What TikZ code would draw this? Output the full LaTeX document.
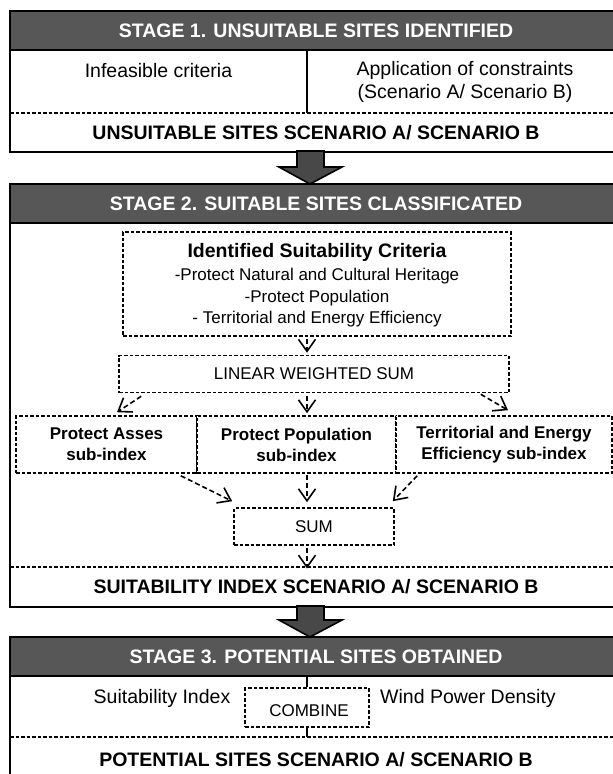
\documentclass[tikz,border=0pt]{standalone}
\usepackage{fontspec}
\setmainfont{Liberation Sans}
\usetikzlibrary{arrows.meta,calc}
\definecolor{hdrgray}{HTML}{575757}
\definecolor{arrgray}{HTML}{484848}
\begin{document}
\begin{tikzpicture}[x=1pt,y=-1pt,
  txt/.style={inner sep=0pt, align=center, font=\fontsize{19.5}{23}\selectfont},
  btxt/.style={txt, font=\fontsize{19.5}{23}\selectfont\bfseries},
  htxt/.style={btxt, text=white},
  stxt/.style={txt, font=\fontsize{17}{21}\selectfont},
  sbtxt/.style={txt, font=\fontsize{17}{21}\selectfont\bfseries},
  dashline/.style={line width=1.6pt, dash pattern=on 3.5pt off 2pt},
  dbox/.style={draw, dashline, inner sep=0pt, fill=white},
  frame/.style={draw=black, line width=1.7pt, fill=white, inner sep=0pt},
  band/.style={draw=black, line width=2pt, fill=hdrgray, inner sep=0pt},
  link/.style={line width=1.6pt, dash pattern=on 5pt off 3pt, -{Straight Barb[length=12pt,width=17pt,line width=1.6pt]}},
  bigarrow/.style={draw=black, line width=1.6pt, fill=arrgray, line join=miter},
]
\useasboundingbox (0,0) rectangle (613,774);
\clip (0,0) rectangle (613,774);
\fill[white] (0,0) rectangle (613,774);

% ---------------- STAGE 1 ----------------
\node[frame, minimum width=612, minimum height=141] (st1) at (316,81.5) {};
\node[band, minimum width=612, minimum height=39] (b1) at (316,30.5) {};
\node[htxt] (h1) at (316,31) {STAGE 1. UNSUITABLE SITES IDENTIFIED};
\coordinate (d1t) at (307,50);
\coordinate (d1b) at (307,113);
\draw[line width=1.6pt] (d1t) -- (d1b);
\coordinate (l1a) at (10,113);
\coordinate (l1b) at (622,113);
\draw[dashline] (l1a) -- (l1b);
\node[txt] (inf) at (158.5,71) {Infeasible criteria};
\node[txt] (app) at (465,81.5) {Application of constraints\\(Scenario A/ Scenario B)};
\node[btxt] (uns) at (316,133) {UNSUITABLE SITES SCENARIO A/ SCENARIO B};

% ---------------- STAGE 2 ----------------
\node[frame, minimum width=612, minimum height=423] (st2) at (316,395.5) {};
\draw[bigarrow] (297,151) -- (297,167) -- (279,167) -- (310,184) -- (342,167) -- (324,167) -- (324,151) -- cycle;
\node[band, minimum width=612, minimum height=39] (b2) at (316,203.5) {};
\node[htxt] (h2) at (316,204) {STAGE 2. SUITABLE SITES CLASSIFICATED};

\node[dbox, minimum width=388, minimum height=104] (crit) at (317,284) {};
\node[btxt] (ct) at (317,252) {Identified Suitability Criteria};
\node[stxt] (c1) at (317,276) {-Protect Natural and Cultural Heritage};
\node[stxt] (c2) at (317,298) {-Protect Population};
\node[stxt] (c3) at (317,319) {- Territorial and Energy Efficiency};

\node[dbox, minimum width=390, minimum height=37, stxt] (lws) at (314,374) {LINEAR WEIGHTED SUM};

\node[dbox, minimum width=181, minimum height=57, sbtxt] (sa) at (106.5,444.5) {Protect Asses\\sub-index};
\node[dbox, minimum width=199, minimum height=57, sbtxt] (sb) at (296.5,444.5) {Protect Population\\sub-index};
\node[dbox, minimum width=216, minimum height=57, sbtxt] (sc) at (504,444.5) {Territorial and Energy\\Efficiency sub-index};

\node[dbox, minimum width=160, minimum height=37, stxt] (sum) at (314,526.5) {SUM};

\coordinate (l2a) at (10,567);
\coordinate (l2b) at (622,567);
\draw[dashline] (l2a) -- (l2b);
\node[btxt] (sui) at (316,587) {SUITABILITY INDEX SCENARIO A/ SCENARIO B};

\draw[link] ($(crit.south -| 307,0)+(0,2)$) -- ($(lws.north -| 307,0)+(0,-2)$);
\draw[link] ($(lws.south west)+(23,3)$) -- ($(sa.north)+(10.5,-3)$);
\draw[link] ($(lws.south)+(-7,3)$) -- ($(sb.north)+(10.5,-2)$);
\draw[link] ($(lws.south east)+(-29,1)$) -- ($(sc.north)+(4,-5)$);
\draw[link] ($(sa.south east)+(-17,2)$) -- ($(sum.north west)+(-1,-6)$);
\draw[link] ($(sb.south)+(10.5,1)$) -- ($(sum.north)+(-7,-5)$);
\draw[link] ($(sc.south west)+(22,2)$) -- ($(sum.north east)+(-2,-6)$);
\draw[link] ($(sum.south)+(-7,2)$) -- ($(sui.north -| 307,0)+(0,-11)$);

% ---------------- STAGE 3 ----------------
\node[frame, minimum width=612, minimum height=170] (st3) at (316,722) {};
\draw[bigarrow] (297,606) -- (297,620) -- (279,620) -- (310,637) -- (342,620) -- (324,620) -- (324,606) -- cycle;
\node[band, minimum width=612, minimum height=39] (b3) at (316,656.5) {};
\node[htxt] (h3) at (316,657) {STAGE 3. POTENTIAL SITES OBTAINED};

\node[dbox, minimum width=124, minimum height=39, stxt] (comb) at (307,707.5) {};
\node[stxt] (combt) at (309,711) {COMBINE};
\node[txt] (si) at (162,698) {Suitability Index};
\node[txt] (wpd) at (468,698) {Wind Power Density};
\coordinate (l3a) at (10,737);
\coordinate (l3b) at (622,737);
\draw[dashline] (l3a) -- (l3b);
\draw[line width=1.6pt] (b3.south -| comb.north) -- (comb.north);
\draw[line width=1.6pt] (comb.south) -- (comb.south |- l3a);
\node[btxt] (pot) at (316,760) {POTENTIAL SITES SCENARIO A/ SCENARIO B};
\end{tikzpicture}
\end{document}
